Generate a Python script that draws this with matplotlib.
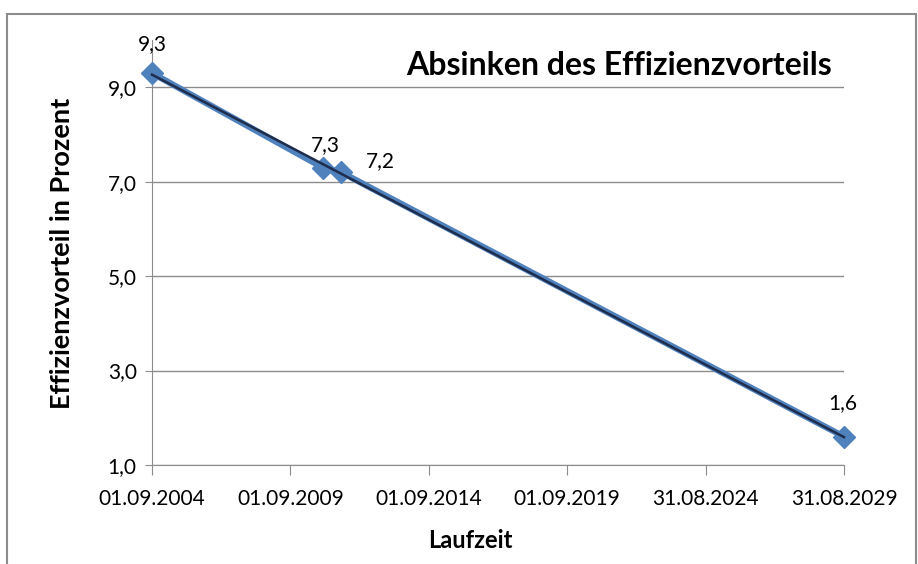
import numpy as np
import matplotlib.pyplot as plt
import matplotlib.dates as mdates
from matplotlib.patches import Rectangle
from datetime import date

plt.rcParams['font.family'] = ['Lato', 'DejaVu Sans']

# data
dates = [date(2004, 9, 1), date(2010, 11, 1), date(2011, 7, 1), date(2029, 8, 31)]
values = [9.3, 7.3, 7.2, 1.6]
labels = ['9,3', '7,3', '7,2', '1,6']
tick_dates = [date(2004, 9, 1), date(2009, 9, 1), date(2014, 9, 1),
              date(2019, 9, 1), date(2024, 8, 31), date(2029, 8, 31)]
y_ticks = [1, 3, 5, 7, 9]

x = mdates.date2num(dates)

fig = plt.figure(figsize=(9.18, 5.64), dpi=100)
# chart border
fig.patches.append(Rectangle((7 / 918, -0.01), 909 / 918, 1 - 14 / 564 + 0.01,
                             transform=fig.transFigure, fill=False,
                             edgecolor='#8c8c8c', linewidth=1.5))

ax = fig.add_axes([152 / 918, 1 - 465 / 564, (844 - 152) / 918, (465 - 40) / 564])

# linear trendline
k, d = np.polyfit(x, values, 1)
ax.plot(x, values, color='#4f81bd', linewidth=4.5, marker='D', markersize=11,
        zorder=3, clip_on=False)
ax.plot([x[0], x[-1]], [k * x[0] + d, k * x[-1] + d], color='#1f2d4d',
        linewidth=1.8, zorder=4, clip_on=False)

offsets = [(0, 14), (2, 9), (28, 1), (-1, 17)]
for xi, yi, lab, off in zip(x, values, labels, offsets):
    ax.annotate(lab, (xi, yi), xytext=off, textcoords='offset points',
                ha='center', va='bottom', fontsize=15)

ax.set_xlim(x[0], mdates.date2num(date(2029, 8, 31)))
ax.set_ylim(1, 10)
ax.set_xticks(mdates.date2num(tick_dates))
ax.set_xticklabels([t.strftime('%d.%m.%Y') for t in tick_dates], fontsize=15)
ax.set_yticks(y_ticks)
ax.set_yticklabels([('%.1f' % v).replace('.', ',') for v in y_ticks], fontsize=15)
ax.yaxis.grid(True, color='#8c8c8c', linewidth=1)
ax.set_axisbelow(True)
for s in ['top', 'right']:
    ax.spines[s].set_visible(False)
for s in ['left', 'bottom']:
    ax.spines[s].set_color('#8c8c8c')
ax.tick_params(axis='x', direction='out', length=7, color='#8c8c8c', pad=10)
ax.tick_params(axis='y', direction='out', length=5, color='#8c8c8c', pad=6)

fig.text(470 / 918, 1 - 540 / 564, 'Laufzeit', ha='center', va='center',
         fontsize=17, fontweight='bold')
fig.text(62 / 918, 1 - 253 / 564, 'Effizienzvorteil in Prozent', rotation=90,
         ha='center', va='center', fontsize=19.5, fontweight='bold')
ax.text(0.675, 0.94, 'Absinken des Effizienzvorteils', transform=ax.transAxes,
        ha='center', va='center', fontsize=23, fontweight='bold')

fig.savefig('out.png', dpi=100)
